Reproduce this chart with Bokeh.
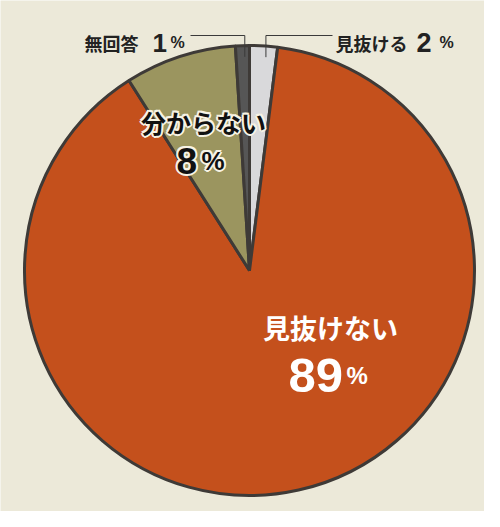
import numpy as np
from bokeh.plotting import figure
from bokeh.models import Range1d
from bokeh.core.properties import value
from bokeh.embed import file_html
from bokeh.resources import INLINE

# data (clockwise from 12 o'clock)
categories = ["見抜ける", "見抜けない", "分からない", "無回答"]
percents = [2, 89, 8, 1]
colors = ["#d9d9db", "#c4501c", "#9b955f", "#565656"]

W, H = 484, 511
p = figure(width=W, height=H, output_backend="svg", toolbar_location=None,
           x_range=Range1d(0, W), y_range=Range1d(0, H), min_border=0)
p.axis.visible = False
p.grid.visible = False
p.outline_line_color = None
p.background_fill_color = "#ece9d9"
p.border_fill_color = "#ece9d9"

cx, cy, R = 249, 241, 225
frac = np.array(percents, dtype=float) / sum(percents)
cum = np.concatenate([[0], np.cumsum(frac)])
starts = np.pi / 2 - cum[1:] * 2 * np.pi
ends = np.pi / 2 - cum[:-1] * 2 * np.pi
p.wedge(x=cx, y=cy, radius=R, start_angle=starts, end_angle=ends,
        fill_color=colors, line_color="#3e3a37", line_width=3,
        direction="anticlock")

# leader lines for small slices
mids = np.pi / 2 - (cum[:-1] + cum[1:]) / 2 * 2 * np.pi
ly = 476
for i, xend in [(0, 332), (3, 190)]:
    vx = cx + 0.95 * R * np.cos(mids[i]) + (3 if i == 0 else 2)
    vy = cy + 0.95 * R * np.sin(mids[i])
    p.line([xend, vx, vx], [ly, ly, vy], line_color="#3a3a3a", line_width=1)

jp = value("Noto Sans CJK JP")
num = value("Liberation Sans")


def label(x, y, t, font, size, color, align="left", halo=None):
    if halo:
        for dx, dy in [(-2, 0), (2, 0), (0, -2), (0, 2), (-1.5, -1.5), (1.5, 1.5),
                       (-1.5, 1.5), (1.5, -1.5)]:
            p.text(x=[x + dx], y=[y + dy], text=[t], text_font=font, text_font_style="bold",
                   text_font_size=size, text_color=halo, text_align=align,
                   text_baseline="alphabetic")
    p.text(x=[x], y=[y], text=[t], text_font=font, text_font_style="bold",
           text_font_size=size, text_color=color, text_align=align,
           text_baseline="alphabetic")


# 無回答 1%
label(84, 469, categories[3], jp, "18px", "#222222")
label(152, 469, str(percents[3]), num, "26px", "#222222")
label(170, 469, "%", num, "16px", "#222222")

# 見抜ける 2%
label(335, 469, categories[0], jp, "18px", "#222222")
label(416, 469, str(percents[0]), num, "27px", "#222222")
label(439, 469, "%", num, "16px", "#222222")

# 分からない 8%
halo = "#f7f3e4"
label(203, 390, categories[2], jp, "25px", "#111111", align="center", halo=halo)
label(176, 351, str(percents[2]), num, "37px", "#111111", halo=halo)
label(201, 351, "%", num, "26px", "#111111", halo=halo)

# 見抜けない 89%
label(330, 184, categories[1], jp, "27px", "#ffffff", align="center")
label(288, 136, str(percents[1]), num, "49px", "#ffffff")
label(346, 136, "%", num, "24px", "#ffffff")

open("out.html", "w").write(file_html(p, INLINE))
